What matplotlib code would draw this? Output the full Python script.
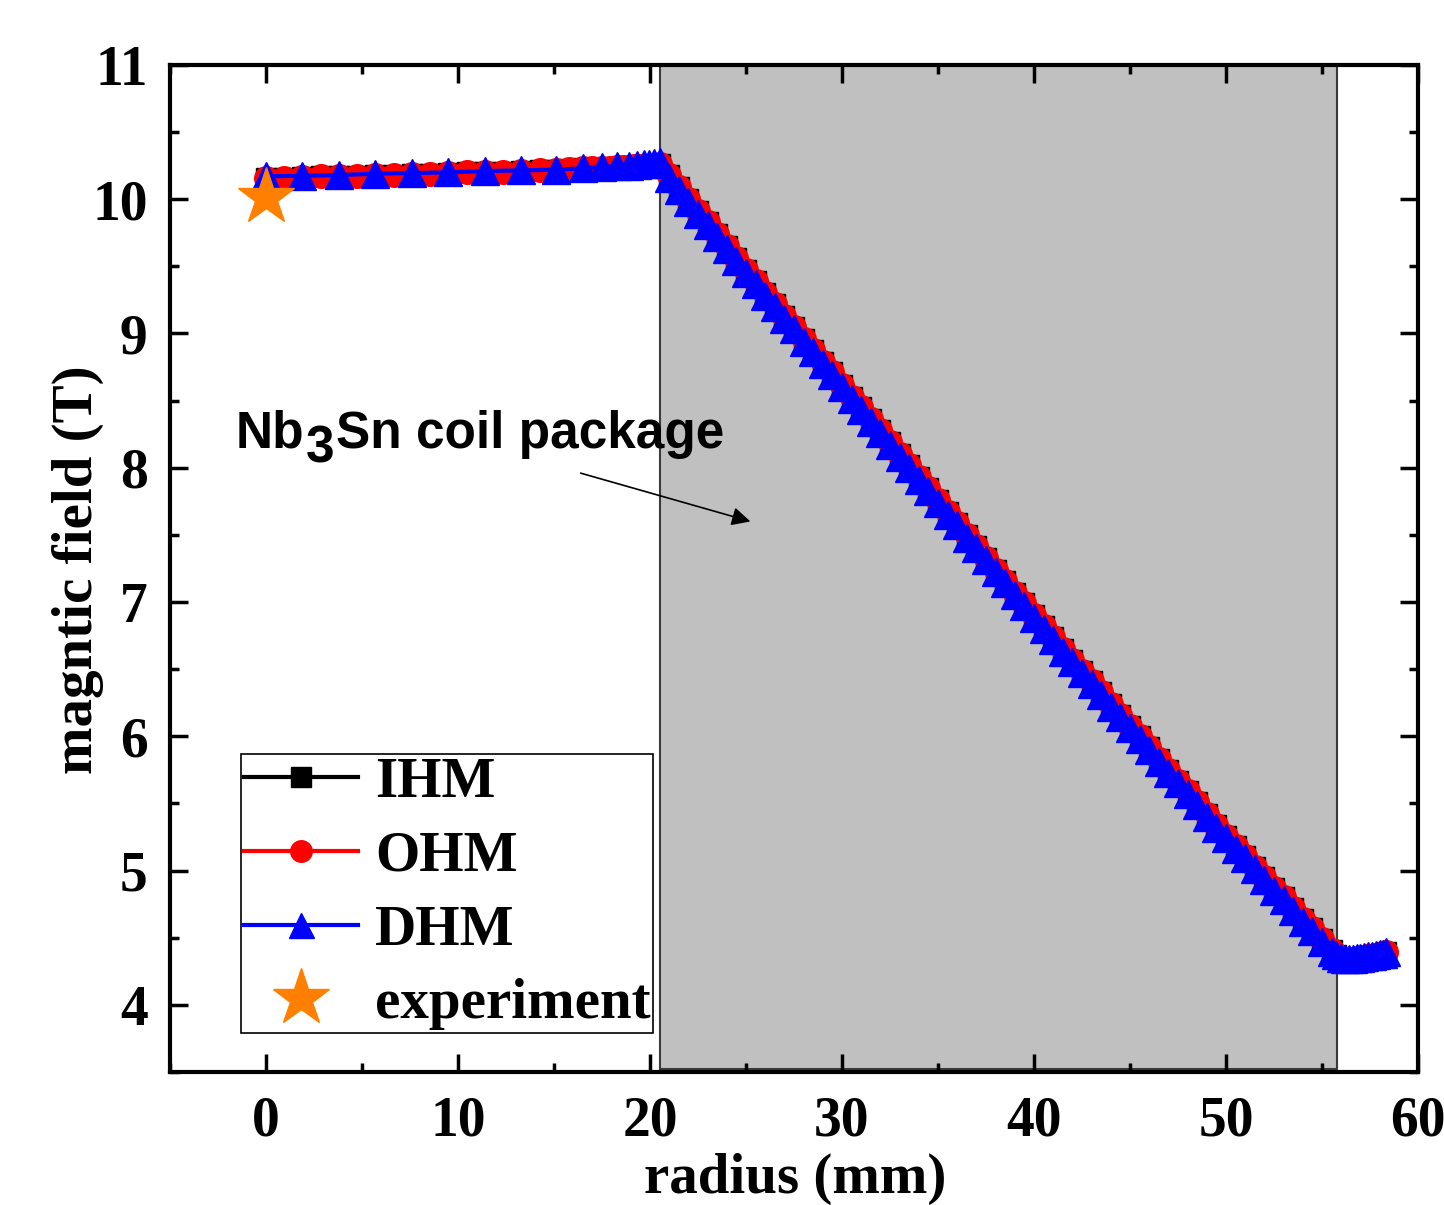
import matplotlib
matplotlib.use("Agg")
import matplotlib.pyplot as plt
from matplotlib.ticker import MultipleLocator

# radius (mm) and field (T)
# bore region (IHM / OHM share the same grid)
r_bore = [0.0, 0.95, 1.9, 2.85, 3.8, 4.75, 5.7, 6.65, 7.6, 8.55, 9.5, 10.45,
          11.4, 12.35, 13.3, 14.25, 15.1, 15.8, 16.5, 17.0, 17.5, 17.9, 18.3,
          18.6, 18.9, 19.15, 19.4, 19.6, 19.8, 19.95, 20.1, 20.25, 20.4, 20.5]
b_bore = [10.16, 10.16, 10.165, 10.17, 10.17, 10.175, 10.18, 10.18, 10.185,
          10.19, 10.195, 10.20, 10.20, 10.205, 10.21, 10.215, 10.22, 10.225,
          10.23, 10.23, 10.235, 10.235, 10.24, 10.24, 10.24, 10.245, 10.245,
          10.245, 10.25, 10.25, 10.25, 10.25, 10.255, 10.26]

# DHM bore grid is coarser
r_bore_dhm = [0.0, 1.9, 3.8, 5.7, 7.6, 9.5, 11.4, 13.3, 15.1, 16.5, 17.5,
              18.3, 18.9, 19.3, 19.7, 19.95, 20.2, 20.5]
b_bore_dhm = [10.17, 10.175, 10.18, 10.19, 10.195, 10.20, 10.21, 10.215,
              10.22, 10.23, 10.24, 10.245, 10.25, 10.255, 10.26, 10.265,
              10.27, 10.28]

# coil package
r_coil = [21.0, 21.5, 22.0, 22.5, 23.0, 23.5, 24.0, 24.5, 25.0, 25.5, 26.0,
          26.5, 27.0, 27.5, 28.0, 28.5, 29.0, 29.5, 30.0, 30.5, 31.0, 31.5,
          32.0, 32.5, 33.0, 33.5, 34.0, 34.5, 35.0, 35.5, 36.0, 36.5, 37.0,
          37.5, 38.0, 38.5, 39.0, 39.5, 40.0, 40.5, 41.0, 41.5, 42.0, 42.5,
          43.0, 43.5, 44.0, 44.5, 45.0, 45.5, 46.0, 46.5, 47.0, 47.5, 48.0,
          48.5, 49.0, 49.5, 50.0, 50.5, 51.0, 51.5, 52.0, 52.5, 53.0, 53.5,
          54.0, 54.5, 55.0, 55.5]
b_coil = [10.18, 10.09, 10.00, 9.91, 9.83, 9.74, 9.65, 9.56, 9.47, 9.39,
          9.30, 9.22, 9.13, 9.05, 8.96, 8.88, 8.79, 8.71, 8.62, 8.53, 8.45,
          8.36, 8.28, 8.19, 8.10, 8.02, 7.93, 7.85, 7.76, 7.67, 7.59, 7.50,
          7.42, 7.33, 7.24, 7.16, 7.07, 6.99, 6.90, 6.82, 6.74, 6.65, 6.57,
          6.49, 6.41, 6.33, 6.24, 6.16, 6.08, 6.00, 5.92, 5.83, 5.75, 5.67,
          5.59, 5.51, 5.42, 5.34, 5.26, 5.18, 5.11, 5.03, 4.95, 4.87, 4.80,
          4.72, 4.64, 4.57, 4.49, 4.41]
# DHM sits a touch lower-left of the other two inside the coil
b_coil_dhm = [10.16, 10.07, 9.98, 9.89, 9.81, 9.72, 9.63, 9.54, 9.45, 9.37,
              9.28, 9.20, 9.11, 9.03, 8.94, 8.86, 8.77, 8.69, 8.60, 8.51,
              8.43, 8.34, 8.26, 8.17, 8.08, 8.00, 7.91, 7.83, 7.74, 7.65,
              7.57, 7.48, 7.40, 7.31, 7.22, 7.14, 7.05, 6.97, 6.88, 6.80,
              6.72, 6.63, 6.55, 6.47, 6.39, 6.31, 6.22, 6.14, 6.06, 5.98,
              5.90, 5.81, 5.73, 5.65, 5.57, 5.49, 5.40, 5.32, 5.24, 5.16,
              5.09, 5.01, 4.93, 4.85, 4.78, 4.70, 4.62, 4.55, 4.47, 4.39]

# outside the coil
r_out = [55.75, 56.0, 56.2, 56.4, 56.6, 56.8, 57.0, 57.2, 57.4, 57.6, 57.8,
         58.0, 58.2, 58.35]
b_out = [4.37, 4.35, 4.34, 4.34, 4.345, 4.35, 4.35, 4.355, 4.36, 4.365,
         4.37, 4.375, 4.38, 4.39]

r_exp = [0.0]
b_exp = [10.02]

coil_span = (20.5, 55.8)

plt.rcParams["font.family"] = ["Liberation Serif", "DejaVu Serif"]
plt.rcParams["font.weight"] = "bold"

fig = plt.figure(figsize=(14.44, 12.05), dpi=100)
ax = fig.add_axes([0.1177, 0.1104, 0.8643, 0.8357])

ax.axvspan(*coil_span, ymin=0.003, ymax=1.0, facecolor="#c0c0c0",
           edgecolor="#3a3a3a", lw=1.5, zorder=0)

r_ihm = r_bore + r_coil + r_out
b_ihm = b_bore + b_coil + b_out
r_dhm = r_bore_dhm + r_coil + r_out
b_dhm = b_bore_dhm + b_coil_dhm + b_out

ax.plot(r_ihm, b_ihm, color="black", lw=3, marker="s", ms=14,
        label="IHM", zorder=2)
ax.plot(r_ihm, b_ihm, color="red", lw=3, marker="o", ms=17,
        label="OHM", zorder=3)
ax.plot(r_dhm, b_dhm, color="blue", lw=3, marker="^", ms=20.5,
        label="DHM", zorder=4)
ax.plot(r_exp, b_exp, ls="none", marker="*", ms=43, color="#ff8000",
        label="experiment", zorder=5)

ax.set_xlim(-5, 60)
ax.set_ylim(3.5, 11)
ax.xaxis.set_major_locator(MultipleLocator(10))
ax.xaxis.set_minor_locator(MultipleLocator(5))
ax.yaxis.set_major_locator(MultipleLocator(1))
ax.yaxis.set_minor_locator(MultipleLocator(0.5))
ax.tick_params(which="both", direction="in", top=True, right=True,
               width=2.5, labelsize=40)
ax.tick_params(which="major", length=13)
ax.tick_params(which="minor", length=6.5)
ax.tick_params(axis="x", pad=17)
ax.tick_params(axis="y", pad=16)
for s in ax.spines.values():
    s.set_linewidth(3)

ax.set_xlabel("radius (mm)", fontsize=41, fontweight="bold")
ax.set_ylabel("magntic field (T)", fontsize=41, fontweight="bold")
ax.xaxis.set_label_coords(0.5008, -0.106)
ax.xaxis.label.set_va("center")
ax.yaxis.set_label_coords(-0.0737, 0.4985)
ax.yaxis.label.set_va("center")
ax.yaxis.label.set_ha("center")

# "Nb3Sn coil package" with a full-size, lowered "3"
sans = dict(fontsize=37, family="Liberation Sans", fontweight="bold")
t1 = ax.text(-1.56, 8.15, "Nb", va="baseline", ha="left", **sans)
t2 = ax.annotate("3", xy=(1, 0), xycoords=t1, xytext=(1, -11),
                 textcoords="offset points", va="bottom", ha="left", **sans)
ax.annotate("Sn coil package", xy=(1, 0), xycoords=(t2, t1),
            xytext=(1, 0), textcoords="offset points",
            va="bottom", ha="left", **sans)
ax.annotate("", xy=(25.23, 7.60), xytext=(16.39, 7.96),
            arrowprops=dict(arrowstyle="-|>", color="black", lw=1.2,
                            mutation_scale=28, shrinkA=0, shrinkB=0))

leg = ax.legend(loc="lower left", bbox_to_anchor=(0.0569, 0.0387),
                borderaxespad=0, fontsize=41, frameon=True, fancybox=False,
                framealpha=1, edgecolor="black", handlelength=2.0,
                handletextpad=0.3, labelspacing=0.38, borderpad=0.05,
                numpoints=1)
leg.get_frame().set_linewidth(1.2)
for h, ms in zip(leg.legend_handles, [14, 15.5, 18, 43]):
    h.set_markersize(ms)

fig.savefig("out.png", dpi=100)
plt.close(fig)
